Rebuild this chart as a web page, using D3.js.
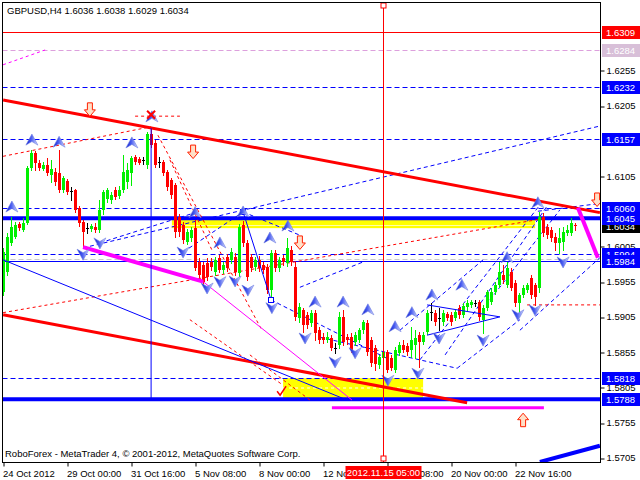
<!DOCTYPE html>
<html><head><meta charset="utf-8">
<script src="https://cdn.jsdelivr.net/npm/d3@7"></script>
<style>body{margin:0;background:#fff}svg{display:block}text{font-family:"Liberation Sans",Arial,sans-serif;font-size:9.5px}</style>
</head><body><svg id="c" width="640" height="480"></svg>
<script>
// ---------- DATA ----------
const symbolTitle = "GBPUSD,H4  1.6036 1.6038 1.6029 1.6034";
const footerText = "RoboForex - MetaTrader 4, © 2001-2012, MetaQuotes Software Corp.";
const opens=[1.5940,1.5969,1.6010,1.6018,1.6037,1.6028,1.6038,1.6116,1.6138,1.6124,1.6115,1.6121,1.6107,1.6111,1.6109,1.6085,1.6098,1.6084,1.6085,1.6060,1.6040,1.6031,1.6030,1.6033,1.6028,1.6057,1.6072,1.6071,1.6085,1.6077,1.6085,1.6097,1.6109,1.6132,1.6129,1.6128,1.6121,1.6165,1.6152,1.6125,1.6125,1.6111,1.6099,1.6092,1.6047,1.6036,1.6011,1.6017,1.6031,1.5983,1.5979,1.5982,1.5983,1.5969,1.5989,1.5972,1.5990,1.5986,1.5990,1.5967,1.6036,1.6010,1.5990,1.5976,1.5986,1.5979,1.5976,1.5943,1.5996,1.5974,1.5989,1.5982,1.6000,1.5976,1.5903,1.5915,1.5908,1.5896,1.5911,1.5886,1.5876,1.5872,1.5875,1.5861,1.5865,1.5905,1.5876,1.5876,1.5869,1.5872,1.5886,1.5896,1.5872,1.5861,1.5837,1.5847,1.5855,1.5847,1.5830,1.5854,1.5865,1.5864,1.5858,1.5865,1.5879,1.5869,1.5884,1.5912,1.5911,1.5903,1.5898,1.5909,1.5908,1.5903,1.5918,1.5908,1.5919,1.5922,1.5925,1.5926,1.5901,1.5918,1.5926,1.5940,1.5950,1.5964,1.5950,1.5969,1.5953,1.5925,1.5936,1.5943,1.5960,1.5950,1.5946,1.6047,1.6033,1.6028,1.6018,1.6010,1.6011,1.6024,1.6024,1.6036];
const highs=[1.6003,1.6024,1.6047,1.6040,1.6040,1.6045,1.6119,1.6142,1.6141,1.6128,1.6125,1.6131,1.6128,1.6116,1.6142,1.6105,1.6101,1.6089,1.6087,1.6063,1.6043,1.6038,1.6037,1.6038,1.6071,1.6085,1.6088,1.6082,1.6089,1.6091,1.6135,1.6124,1.6133,1.6135,1.6132,1.6132,1.6168,1.6175,1.6156,1.6132,1.6128,1.6114,1.6102,1.6095,1.6051,1.6040,1.6030,1.6033,1.6043,1.5989,1.5983,1.5989,1.5989,1.5990,1.5993,1.5983,1.5994,1.6003,1.5996,1.6037,1.6041,1.6014,1.5994,1.5990,1.5991,1.5983,1.5980,1.6000,1.6000,1.5990,1.5993,1.6017,1.6006,1.5983,1.5925,1.5918,1.5912,1.5915,1.5915,1.5891,1.5882,1.5884,1.5879,1.5868,1.5912,1.5915,1.5881,1.5882,1.5884,1.5889,1.5901,1.5901,1.5876,1.5865,1.5851,1.5861,1.5858,1.5851,1.5862,1.5869,1.5872,1.5868,1.5891,1.5886,1.5884,1.5884,1.5915,1.5925,1.5915,1.5918,1.5915,1.5912,1.5912,1.5915,1.5922,1.5925,1.5929,1.5929,1.5929,1.5929,1.5922,1.5943,1.5946,1.5955,1.5983,1.5979,1.5983,1.5974,1.5957,1.5939,1.5950,1.5953,1.5964,1.5953,1.6054,1.6053,1.6037,1.6033,1.6024,1.6031,1.6033,1.6036,1.6045,1.6038];
const lows=[1.5936,1.5964,1.6007,1.6017,1.6028,1.6027,1.6037,1.6114,1.6114,1.6114,1.6113,1.6107,1.6097,1.6092,1.6082,1.6082,1.6079,1.6071,1.6054,1.6034,1.6004,1.6024,1.6027,1.6026,1.6026,1.6051,1.6068,1.6067,1.6072,1.6074,1.6082,1.6088,1.6092,1.6122,1.6122,1.6122,1.6116,1.6146,1.6118,1.6118,1.6107,1.6085,1.6074,1.6018,1.6020,1.6010,1.6009,1.6013,1.5972,1.5960,1.5950,1.5957,1.5972,1.5964,1.5969,1.5967,1.5970,1.5982,1.5964,1.5963,1.6006,1.5957,1.5970,1.5972,1.5970,1.5967,1.5939,1.5928,1.5970,1.5970,1.5979,1.5977,1.5979,1.5901,1.5898,1.5884,1.5889,1.5892,1.5872,1.5868,1.5868,1.5869,1.5858,1.5854,1.5861,1.5865,1.5867,1.5855,1.5865,1.5869,1.5882,1.5851,1.5835,1.5830,1.5832,1.5837,1.5827,1.5830,1.5827,1.5851,1.5855,1.5851,1.5848,1.5847,1.5834,1.5867,1.5881,1.5901,1.5893,1.5886,1.5893,1.5901,1.5893,1.5901,1.5903,1.5905,1.5915,1.5919,1.5920,1.5901,1.5882,1.5915,1.5923,1.5938,1.5947,1.5953,1.5947,1.5943,1.5920,1.5912,1.5933,1.5940,1.5932,1.5922,1.5940,1.6020,1.6017,1.6013,1.6000,1.5996,1.6000,1.6021,1.6021,1.6029];
const closes=[1.5997,1.6018,1.6033,1.6036,1.6031,1.6038,1.6116,1.6138,1.6124,1.6116,1.6121,1.6109,1.6115,1.6097,1.6085,1.6102,1.6082,1.6084,1.6057,1.6038,1.6026,1.6031,1.6034,1.6028,1.6057,1.6082,1.6085,1.6078,1.6075,1.6085,1.6111,1.6114,1.6131,1.6125,1.6124,1.6128,1.6165,1.6149,1.6121,1.6125,1.6109,1.6089,1.6078,1.6026,1.6026,1.6014,1.6026,1.6028,1.5974,1.5964,1.5955,1.5962,1.5976,1.5986,1.5972,1.5979,1.5974,1.5997,1.5969,1.6033,1.6010,1.5962,1.5974,1.5986,1.5974,1.5972,1.5943,1.5996,1.5974,1.5986,1.5983,1.6003,1.5983,1.5905,1.5919,1.5893,1.5893,1.5911,1.5882,1.5872,1.5872,1.5876,1.5861,1.5861,1.5905,1.5869,1.5872,1.5858,1.5879,1.5886,1.5898,1.5855,1.5840,1.5838,1.5848,1.5855,1.5830,1.5832,1.5858,1.5865,1.5858,1.5855,1.5872,1.5875,1.5869,1.5879,1.5911,1.5912,1.5898,1.5903,1.5911,1.5903,1.5898,1.5912,1.5908,1.5920,1.5925,1.5926,1.5925,1.5905,1.5918,1.5940,1.5940,1.5950,1.5969,1.5957,1.5974,1.5946,1.5925,1.5936,1.5946,1.5950,1.5936,1.5933,1.6047,1.6024,1.6021,1.6017,1.6010,1.6017,1.6026,1.6028,1.6038,1.6034];

const timeTickIdx=[0,16,32,48,64,80,96,112,128];
const timeTickLabels=["24 Oct 2012","29 Oct 00:00","31 Oct 16:00","5 Nov 08:00","8 Nov 00:00","12 Nov 16:00","15 Nov 08:00","20 Nov 00:00","22 Nov 16:00"];
// scale labels that are not covered by price tags
const priceTicks=[1.6255,1.6205,1.6105,1.6005,1.5955,1.5905,1.5855,1.5805,1.5755,1.5705];

// horizontal levels: price, colour, width, dash
const levelPrices=[1.6309,1.6284,1.6232,1.6157,1.6060,1.6045,1.5994,1.5987,1.5984,1.5818,1.5788];
const levelColors=["#ff0000","#dda0dd","#0000ff","#0000ff","#0000ff","#0000ff","#0000ff","#c8c8c8","#0000ff","#0000ff","#0000ff"];
const levelWidths=[1,1,1,1,1,4,1,1,1,1,4];
const levelDashed=[false,true,true,true,true,false,true,true,false,true,false];

// price labels on the right scale: price, text, fill
const tagPrices=[1.6309,1.6284,1.6232,1.6157,1.6034,1.6060,1.6045,1.5994,1.5984,1.5818,1.5788];
const tagTexts=["1.6309","1.6284","1.6232","1.6157","1.6034","1.6060","1.6045","1.5994","1.5984","1.5818","1.5788"];
const tagFills=["#ff0000","#d8bfd8","#0000ff","#0000ff","#000000","#0000ff","#0000ff","#0000ff","#0000ff","#0000ff","#0000ff"];

// solid trend objects: [bar1, price1, bar2, price2, colour, width]
const solidLines=[
 [-0.1,1.6213,149.1,1.6053,"#ff0000",3],
 [-0.1,1.5908,115.9,1.5783,"#ff0000",3],
 [-0.1,1.5986,85.4,1.5788,"#0000ff",1],
 [19.9,1.6004,49.9,1.5955,"#ff00ff",4],
 [49.9,1.5955,87.1,1.5787,"#ff00ff",1],
 [143.6,1.6060,148.6,1.5989,"#ff00ff",4],
 [134.1,1.5699,149.1,1.5722,"#0000ff",4],
 [82.1,1.5776,135.1,1.5776,"#ff00ff",3],
 [59.9,1.6054,66.9,1.5929,"#0000ff",1],
 [105.9,1.5922,124.1,1.5905,"#0000ff",1],
 [105.9,1.5879,124.1,1.5905,"#0000ff",1],
 [36.9,1.6173,36.9,1.5788,"#0000ff",1]
];
// dashed trend objects: [bar1, price1, bar2, price2, colour]
const dashedLines=[
 [19.9,1.6003,149.1,1.6176,"#0000ff"],
 [24.1,1.6010,47.9,1.6053,"#0000ff"],
 [44.9,1.5997,59.9,1.6054,"#0000ff"],
 [59.9,1.6054,74.1,1.6021,"#0000ff"],
 [66.9,1.5929,96.6,1.5844,"#0000ff"],
 [74.1,1.5947,89.9,1.5983,"#0000ff"],
 [79.1,1.5876,113.4,1.5832,"#0000ff"],
 [113.4,1.5832,129.1,1.5901,"#0000ff"],
 [99.1,1.5886,119.9,1.5986,"#0000ff"],
 [104.1,1.5844,134.1,1.6064,"#0000ff"],
 [110.4,1.5851,136.1,1.6064,"#0000ff"],
 [121.6,1.5929,139.1,1.6057,"#0000ff"],
 [129.1,1.5886,149.1,1.5989,"#0000ff"],
 [133.6,1.6055,149.1,1.6066,"#0000ff"],
 [-0.1,1.6133,36.9,1.6175,"#ff0000"],
 [32.9,1.6190,44.1,1.6190,"#ff0000"],
 [-0.1,1.5911,135.4,1.6045,"#ff0000"],
 [130.9,1.5922,149.1,1.5922,"#ff0000"],
 [38.6,1.6163,64.6,1.5886,"#ff0000"],
 [41.6,1.6128,52.1,1.6000,"#ff0000"],
 [46.6,1.5901,69.9,1.5808,"#ff0000"],
 [61.6,1.5851,76.6,1.5787,"#ff0000"],
 [-0.1,1.6263,10.4,1.6284,"#ff00ff"],
 [69.9,1.5804,104.9,1.5804,"#ffffff"]
];
// rectangles: [bar1, price1, bar2, price2]
const yellowBoxes=[[42.1,1.6043,132.9,1.6031],[69.9,1.5818,104.9,1.5787]];

// arrows [bar, price]
const upArrows=[[2.1,1.6061],[7.1,1.6156],[13.9,1.6153],[32.1,1.6152],[37.1,1.6189],[47.9,1.6053],[54.1,1.6010],[59.9,1.6054],[66.6,1.6017],[71.1,1.6034],[77.9,1.5926],[84.9,1.5926],[91.1,1.5915],[97.9,1.5891],[102.1,1.5911],[107.1,1.5936],[114.6,1.5950],[125.9,1.5989],[133.6,1.6067]];
const downArrows=[[19.9,1.5994],[24.1,1.6010],[44.9,1.5997],[50.9,1.5946],[54.1,1.5955],[57.9,1.5956],[61.1,1.5943],[67.1,1.5918],[75.4,1.5875],[82.9,1.5841],[87.9,1.5854],[96.1,1.5815],[103.6,1.5825],[108.9,1.5875],[119.9,1.5872],[128.6,1.5908],[132.9,1.5915],[139.9,1.5983]];
const redDownArrows=[[21.6,1.6199],[47.4,1.6139],[74.1,1.6010],[148.4,1.6071]];
const redUpArrows=[[129.9,1.5759]];
const crossMarks=[[36.9,1.6192]];
const checkMarks=[[69.4,1.5798]];
const pivotSquares=[[59.9,1.6054],[66.9,1.5929]];
const cursorBar=94.9;
const cursorLabel="2012.11.15 05:00";

// ---------- DRAW ----------
const svg=d3.select("#c");
const L=2.5,T=2.5,R=600.5,B=462.5;
const x=d3.scaleLinear().domain([0,143]).range([3.5,575.5]);
const y=d3.scaleLinear().domain([1.56975,1.63507]).range([463,3]);
const cy=p=>Math.round(y(p))+0.5;

const defs=svg.append("defs");
defs.append("clipPath").attr("id","plot").append("rect").attr("x",L).attr("y",T).attr("width",R-L).attr("height",B-T);
const g1=defs.append("linearGradient").attr("id","ag").attr("x1","0").attr("x2","1").attr("y1","0").attr("y2","0");
g1.append("stop").attr("offset","0").attr("stop-color","#0a1ad0");
g1.append("stop").attr("offset","0.45").attr("stop-color","#4a5ef0");
g1.append("stop").attr("offset","1").attr("stop-color","#dde2ff");

svg.append("rect").attr("width",640).attr("height",480).attr("fill","#fff");
const plot=svg.append("g").attr("clip-path","url(#plot)");

// yellow boxes
plot.selectAll(".yb").data(yellowBoxes).enter().append("rect")
 .attr("x",d=>x(d[0])).attr("y",d=>y(d[1])).attr("width",d=>x(d[2])-x(d[0])).attr("height",d=>y(d[3])-y(d[1]))
 .attr("fill","#ffff00");
plot.append("line").attr("x1",x(yellowBoxes[0][0])).attr("x2",x(yellowBoxes[0][2]))
 .attr("y1",cy(1.6036)).attr("y2",cy(1.6036)).attr("stroke","#ffffa8").attr("stroke-width",1);

// horizontal levels
levelPrices.forEach((p,k)=>{
  const yy=levelWidths[k]>1?y(p):cy(p);
  plot.append("line").attr("x1",L).attr("x2",R).attr("y1",yy).attr("y2",yy)
   .attr("stroke",levelColors[k]).attr("stroke-width",levelWidths[k])
   .attr("stroke-dasharray",levelDashed[k]?"5,3":null);
});

// dashed lines
plot.selectAll(".dl").data(dashedLines).enter().append("line")
 .attr("x1",d=>x(d[0])).attr("y1",d=>y(d[1])).attr("x2",d=>x(d[2])).attr("y2",d=>y(d[3]))
 .attr("stroke",d=>d[4]).attr("stroke-width",1).attr("stroke-dasharray",d=>d[4]=="#0000ff"?"4,3":"3,3");

// candles
const cg=plot.append("g");
opens.forEach((o,i)=>{
  const c=closes[i],h=highs[i],l=lows[i];
  const xc=Math.floor(x(i))+0.5;
  const col=c>o?"#00f000":(c<o?"#ff0000":"#000000");
  cg.append("line").attr("x1",xc).attr("x2",xc).attr("y1",Math.round(y(h))).attr("y2",Math.round(y(l))+1)
    .attr("stroke",col).attr("stroke-width",1);
  const top=Math.round(y(Math.max(o,c))), bot=Math.round(y(Math.min(o,c)));
  cg.append("rect").attr("x",xc-1.5).attr("y",top).attr("width",3).attr("height",Math.max(1,bot-top))
    .attr("fill",col);
});

// solid lines
plot.selectAll(".sl").data(solidLines).enter().append("line")
 .attr("x1",d=>x(d[0])).attr("y1",d=>y(d[1])).attr("x2",d=>x(d[2])).attr("y2",d=>y(d[3]))
 .attr("stroke",d=>d[4]).attr("stroke-width",d=>d[5]);

// pivot squares
plot.selectAll(".sq").data(pivotSquares).enter().append("rect")
 .attr("x",d=>Math.round(x(d[0]))-2.5).attr("y",d=>Math.round(y(d[1]))-2.5).attr("width",5).attr("height",5)
 .attr("fill","#fff").attr("stroke","#0000ff");

// blue arrows
plot.selectAll(".ua").data(upArrows).enter().append("path")
 .attr("transform",d=>`translate(${x(d[0])},${y(d[1])})`)
 .attr("d","M0,-6L6,5L0,1.5L-6,5Z").attr("fill","url(#ag)").attr("stroke","#7080e0").attr("stroke-width",0.6);
plot.selectAll(".da").data(downArrows).enter().append("path")
 .attr("transform",d=>`translate(${x(d[0])},${y(d[1])})`)
 .attr("d","M0,6L6,-5L0,-1.5L-6,-5Z").attr("fill","url(#ag)").attr("stroke","#7080e0").attr("stroke-width",0.6);
// red hollow arrows
plot.selectAll(".rda").data(redDownArrows).enter().append("path")
 .attr("transform",d=>`translate(${x(d[0])},${y(d[1])})`)
 .attr("d","M-2.5,-7H2.5V0H5.5L0,6.5L-5.5,0H-2.5Z").attr("fill","#ffe0c8").attr("stroke","#ff2000").attr("stroke-width",1);
plot.selectAll(".rua").data(redUpArrows).enter().append("path")
 .attr("transform",d=>`translate(${x(d[0])},${y(d[1])})`)
 .attr("d","M-2.5,7H2.5V0H5.5L0,-6.5L-5.5,0H-2.5Z").attr("fill","#ffe0c8").attr("stroke","#ff2000").attr("stroke-width",1);
plot.selectAll(".xm").data(crossMarks).enter().append("path")
 .attr("transform",d=>`translate(${x(d[0])},${y(d[1])})`)
 .attr("d","M-4,-4L4,4M4,-4L-4,4").attr("stroke","#ff0000").attr("stroke-width",2);
plot.selectAll(".ck").data(checkMarks).enter().append("path")
 .attr("transform",d=>`translate(${x(d[0])},${y(d[1])})`)
 .attr("d","M-4,-1L-1,3L5,-6").attr("fill","none").attr("stroke","#ff0000").attr("stroke-width",1.5);

// cursor line
const xcur=Math.round(x(cursorBar))+0.5;
svg.append("line").attr("x1",xcur).attr("x2",xcur).attr("y1",T).attr("y2",B).attr("stroke","#ff0000");
svg.append("rect").attr("x",xcur-2.5).attr("y",3).attr("width",5).attr("height",5).attr("fill","#fff").attr("stroke","#ff0000");
svg.append("rect").attr("x",xcur-2.5).attr("y",456).attr("width",5).attr("height",5).attr("fill","#fff").attr("stroke","#ff0000");

// frame
svg.append("rect").attr("x",L).attr("y",T).attr("width",R-L).attr("height",B-T).attr("fill","none").attr("stroke","#000");

// right axis
const ra=svg.append("g").attr("transform",`translate(${R},0)`)
 .call(d3.axisRight(y).tickValues(priceTicks).tickSize(4).tickPadding(2).tickFormat(d3.format(".4f")));
ra.select(".domain").remove();
ra.selectAll("line").attr("stroke","#000").attr("transform",function(d){return `translate(0,${cy(d)-y(d)})`;});
ra.selectAll("text").attr("fill","#000").style("font-size","9.5px").style("font-family","'Liberation Sans',Arial,sans-serif");

// price tags
tagPrices.forEach((p,k)=>{
  const yy=Math.round(y(p));
  svg.append("rect").attr("x",602).attr("y",yy-6).attr("width",38).attr("height",13).attr("fill",tagFills[k]);
  svg.append("text").attr("x",606).attr("y",yy+4).attr("fill","#fff").text(tagTexts[k]);
});

// bottom axis
const ba=svg.append("g").attr("transform",`translate(0,${B})`)
 .call(d3.axisBottom(x).tickValues(timeTickIdx).tickSize(4).tickFormat((d,k)=>timeTickLabels[k]));
ba.select(".domain").remove();
ba.selectAll("line").attr("stroke","#000").attr("transform",d=>`translate(${Math.floor(x(d))+0.5-x(d)},0)`);
ba.selectAll("text").attr("text-anchor","start").attr("dx","-1").attr("y",6).attr("dy","0.9em").attr("fill","#000")
  .style("font-size","9.5px").style("font-family","'Liberation Sans',Arial,sans-serif");

// cursor time label
svg.append("rect").attr("x",xcur-38).attr("y",466).attr("width",76).attr("height",13).attr("fill","#ff0000");
svg.append("text").attr("x",xcur).attr("y",476).attr("text-anchor","middle").attr("fill","#fff").text(cursorLabel);

// texts
svg.append("text").attr("x",7).attr("y",14).attr("fill","#000").text(symbolTitle);
svg.append("text").attr("x",5).attr("y",457).attr("fill","#000").text(footerText);
</script></body></html>
